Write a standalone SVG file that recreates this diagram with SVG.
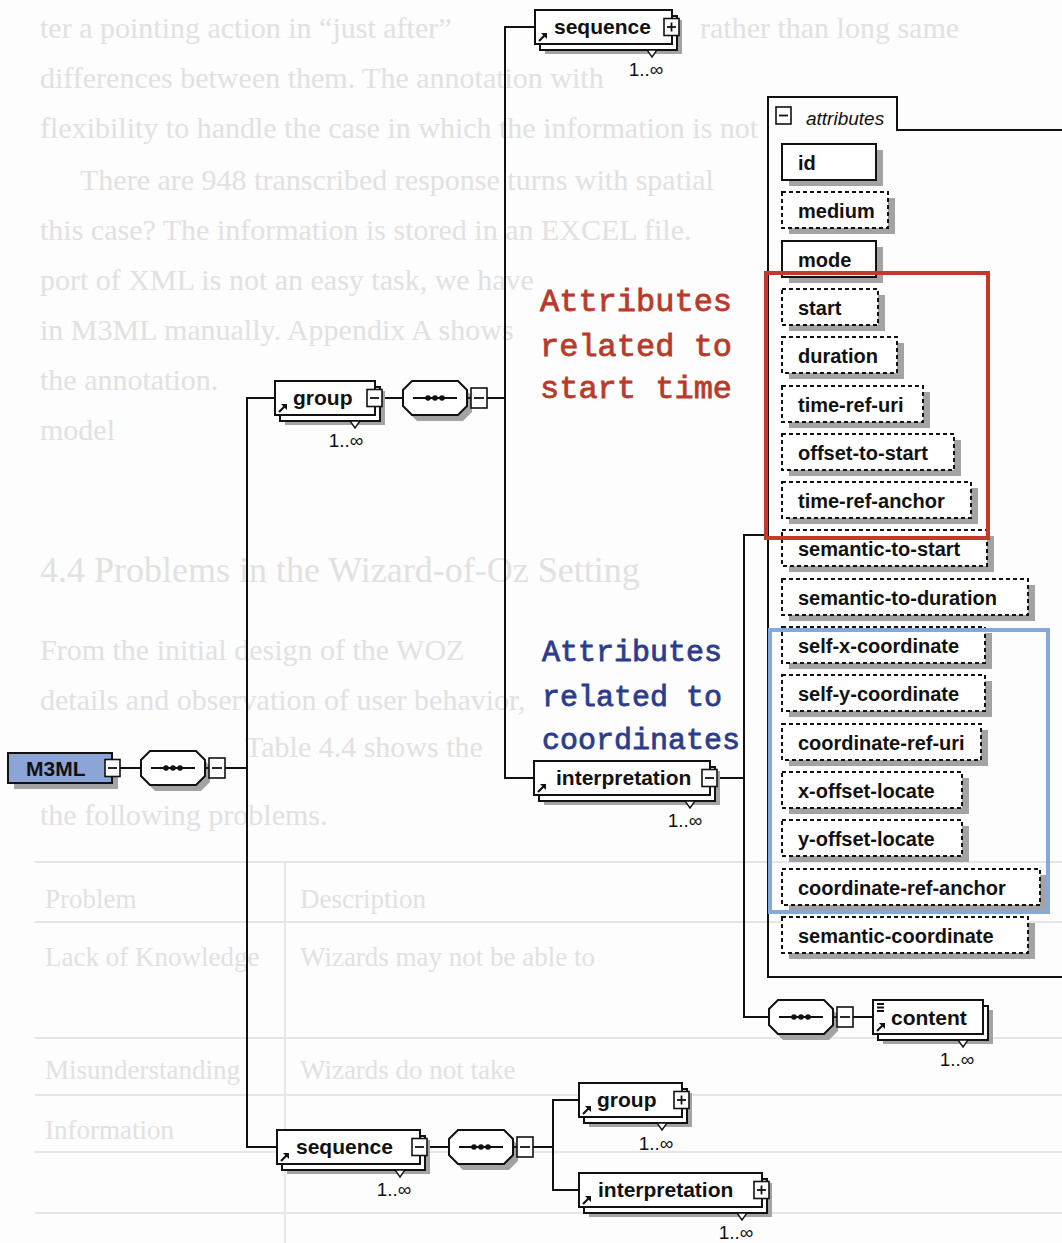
<svg xmlns="http://www.w3.org/2000/svg" xmlns:xlink="http://www.w3.org/1999/xlink" width="1062" height="1243" viewBox="0 0 1062 1243">
<style>
.bgt{font-family:"Liberation Serif","Times New Roman",serif;font-size:30px;fill:#e1e1e1}
.bgh{font-family:"Liberation Serif","Times New Roman",serif;font-size:36px;fill:#e1e1e1}
.bgs{font-family:"Liberation Serif","Times New Roman",serif;font-size:27px;fill:#e1e1e1}
.bgl{stroke:#e6e6e6;stroke-width:2;fill:none}
.conn{stroke:#111;stroke-width:2;fill:none}
.box{fill:#fff;stroke:#111;stroke-width:2}
.shd{fill:#a3a3a3;stroke:none}
.pm{fill:#fff;stroke:#111;stroke-width:1.6}
.pml{stroke:#111;stroke-width:1.8}
.dsh{fill:#fff;stroke:#111;stroke-width:2;stroke-dasharray:4 3}
.el{font-family:"Liberation Sans",Arial,sans-serif;font-weight:bold;font-size:21px;fill:#111}
.at{font-family:"Liberation Sans",Arial,sans-serif;font-weight:bold;font-size:20px;fill:#111}
.card{font-family:"Liberation Sans",Arial,sans-serif;font-size:19px;fill:#111;text-anchor:middle}
.red{font-family:"Liberation Mono","Courier New",monospace;font-size:32px;fill:#b83a2b;stroke:#b83a2b;stroke-width:0.8}
.blue{font-family:"Liberation Mono","Courier New",monospace;font-size:30px;fill:#2c3c8c;stroke:#2c3c8c;stroke-width:0.8}
.tri{fill:#fff;stroke:#111;stroke-width:1.4}
.ref{stroke:#111;stroke-width:2.2;fill:none}
</style>
<defs>
<polygon id="octShape" points="9,0 55,0 64,9 64,25 55,34 9,34 0,25 0,9"/>
<g id="minus"><rect class="pm" x="0" y="0" width="15" height="17"/><line class="pml" x1="3" y1="8.5" x2="12" y2="8.5"/></g>
<g id="plus"><rect class="pm" x="0" y="0" width="15" height="17"/><line class="pml" x1="3" y1="8.5" x2="12" y2="8.5"/><line class="pml" x1="7.5" y1="4" x2="7.5" y2="13"/></g>
<g id="compositor">
<use href="#octShape" x="5" y="6" class="shd"/>
<use href="#octShape" class="box"/>
<line class="pml" x1="10" y1="17" x2="54" y2="17"/>
<circle cx="25" cy="17" r="2.8" fill="#111"/><circle cx="32" cy="17" r="2.8" fill="#111"/><circle cx="39" cy="17" r="2.8" fill="#111"/>
<line class="pml" x1="64" y1="17" x2="68" y2="17"/>
<rect class="pm" x="68" y="7" width="16" height="20"/>
<line class="pml" x1="71" y1="17" x2="81" y2="17"/>
</g>
<g id="refArrow"><path class="ref" d="M0 0 L6 -6"/><path d="M2 -8 H8 V-2 Z" fill="#111"/></g>
</defs>
<rect x="0" y="0" width="1062" height="1243" fill="#fdfdfd"/>

<g id="background-text">
<text class="bgt" x="40" y="38">ter a pointing action in “just after”</text>
<text class="bgt" x="700" y="38">rather than long same</text>
<text class="bgt" x="40" y="88">differences between them. The annotation with</text>
<text class="bgt" x="40" y="138">flexibility to handle the case in which the information is not</text>
<text class="bgt" x="80" y="190">There are 948 transcribed response turns with spatial</text>
<text class="bgt" x="40" y="240">this case? The information is stored in an EXCEL file.</text>
<text class="bgt" x="40" y="290">port of XML is not an easy task, we have</text>
<text class="bgt" x="40" y="340">in M3ML manually. Appendix A shows</text>
<text class="bgt" x="40" y="390">the annotation.</text>
<text class="bgt" x="40" y="440">model</text>
<text class="bgh" x="40" y="582">4.4   Problems in the Wizard-of-Oz Setting</text>
<text class="bgt" x="40" y="660">From the initial design of the WOZ</text>
<text class="bgt" x="40" y="710">details and observation of user behavior,</text>
<text class="bgt" x="245" y="757">Table 4.4 shows the</text>
<text class="bgt" x="40" y="825">the following problems.</text>
<path class="bgl" d="M35 862 H1062 M35 922 H1062 M35 1038 H1062 M35 1095 H1062 M35 1152 H1062 M35 1213 H1062 M285 862 V1243"/>
<text class="bgs" x="45" y="908">Problem</text>
<text class="bgs" x="300" y="908">Description</text>
<text class="bgs" x="45" y="966">Lack of Knowledge</text>
<text class="bgs" x="300" y="966">Wizards may not be able to</text>
<text class="bgs" x="45" y="1079">Misunderstanding</text>
<text class="bgs" x="300" y="1079">Wizards do not take</text>
<text class="bgs" x="45" y="1139">Information</text>
</g>

<g id="connectors">
<path class="conn" d="M120 768 H141"/>
<path class="conn" d="M225 768 H247"/>
<path class="conn" d="M275 398 H247 V1147 H277"/>
<path class="conn" d="M382 398 H403"/>
<path class="conn" d="M487 398 H505"/>
<path class="conn" d="M535 27 H505 V778 H534"/>
<path class="conn" d="M717 778 H744"/>
<path class="conn" d="M768 535 H744 V1017 H769"/>
<path class="conn" d="M853 1017 H873"/>
<path class="conn" d="M427 1147 H449"/>
<path class="conn" d="M533 1147 H553"/>
<path class="conn" d="M579 1100 H553 V1190 H579"/>
</g>

<g id="node-m3ml">
<rect class="shd" x="14" y="759" width="104" height="30"/>
<rect x="8" y="753" width="104" height="30" fill="#8da5d6" stroke="#111" stroke-width="2"/>
<text class="el" x="26" y="776" font-size="22">M3ML</text>
<use href="#minus" x="105" y="759.5"/>
</g>

<g id="node-compositor-1"><use href="#compositor" x="141" y="751"/></g>
<g id="node-compositor-2"><use href="#compositor" x="403" y="381"/></g>
<g id="node-compositor-3"><use href="#compositor" x="769" y="1000"/></g>
<g id="node-compositor-4"><use href="#compositor" x="449" y="1130"/></g>

<g id="node-sequence-top">
<rect class="shd" x="545" y="20" width="137" height="34"/>
<rect class="box" x="540" y="16" width="137" height="34"/>
<rect class="box" x="535" y="10" width="137" height="34"/>
<use href="#refArrow" x="539" y="41"/>
<text class="el" x="554" y="34">sequence</text>
<use href="#plus" x="664" y="18.5"/>
<path class="tri" d="M647 50 H657 L652 57 Z"/>
<text class="card" x="646" y="76">1..∞</text>
</g>

<g id="node-group-top">
<rect class="shd" x="285" y="391" width="100" height="34"/>
<rect class="box" x="280" y="387" width="100" height="34"/>
<rect class="box" x="275" y="381" width="100" height="34"/>
<use href="#refArrow" x="279" y="412"/>
<text class="el" x="293" y="405">group</text>
<use href="#minus" x="367" y="389.5"/>
<path class="tri" d="M350 421 H360 L355 428 Z"/>
<text class="card" x="346" y="447">1..∞</text>
</g>

<g id="node-interpretation-mid">
<rect class="shd" x="544" y="771" width="176" height="34"/>
<rect class="box" x="539" y="767" width="176" height="34"/>
<rect class="box" x="534" y="761" width="176" height="34"/>
<use href="#refArrow" x="538" y="792"/>
<text class="el" x="556" y="785">interpretation</text>
<use href="#minus" x="702" y="769.5"/>
<path class="tri" d="M685 801 H695 L690 808 Z"/>
<text class="card" x="685" y="827">1..∞</text>
</g>

<g id="node-attributes">
<path class="conn" d="M1062 130 H897 V97 H768 V977 H1062"/>
<use href="#minus" x="776" y="107"/>
<text x="806" y="125" font-family="Liberation Sans, Arial, sans-serif" font-style="italic" font-size="19" fill="#111">attributes</text>
</g>

<g id="attr-id"><rect class="shd" x="789" y="150" width="94" height="36"/><rect class="box" x="782" y="144" width="94" height="36"/><text class="at" x="798" y="170">id</text></g>
<g id="attr-medium"><rect class="shd" x="789" y="198" width="106" height="36"/><rect class="dsh" x="782" y="192" width="106" height="36"/><text class="at" x="798" y="218">medium</text></g>
<g id="attr-mode"><rect class="shd" x="789" y="247" width="94" height="36"/><rect class="box" x="782" y="241" width="94" height="36"/><text class="at" x="798" y="267">mode</text></g>
<g id="attr-start"><rect class="shd" x="789" y="295" width="96" height="36"/><rect class="dsh" x="782" y="289" width="96" height="36"/><text class="at" x="798" y="315">start</text></g>
<g id="attr-duration"><rect class="shd" x="789" y="343" width="115" height="36"/><rect class="dsh" x="782" y="337" width="115" height="36"/><text class="at" x="798" y="363">duration</text></g>
<g id="attr-time-ref-uri"><rect class="shd" x="789" y="392" width="141" height="36"/><rect class="dsh" x="782" y="386" width="141" height="36"/><text class="at" x="798" y="412">time-ref-uri</text></g>
<g id="attr-offset-to-start"><rect class="shd" x="789" y="440" width="172" height="36"/><rect class="dsh" x="782" y="434" width="172" height="36"/><text class="at" x="798" y="460">offset-to-start</text></g>
<g id="attr-time-ref-anchor"><rect class="shd" x="789" y="488" width="189" height="36"/><rect class="dsh" x="782" y="482" width="189" height="36"/><text class="at" x="798" y="508">time-ref-anchor</text></g>
<g id="attr-semantic-to-start"><rect class="shd" x="789" y="536" width="205" height="36"/><rect class="dsh" x="782" y="530" width="205" height="36"/><text class="at" x="798" y="556">semantic-to-start</text></g>
<g id="attr-semantic-to-duration"><rect class="shd" x="789" y="585" width="246" height="36"/><rect class="dsh" x="782" y="579" width="246" height="36"/><text class="at" x="798" y="605">semantic-to-duration</text></g>
<g id="attr-self-x-coordinate"><rect class="shd" x="789" y="633" width="203" height="36"/><rect class="dsh" x="782" y="627" width="203" height="36"/><text class="at" x="798" y="653">self-x-coordinate</text></g>
<g id="attr-self-y-coordinate"><rect class="shd" x="789" y="681" width="203" height="36"/><rect class="dsh" x="782" y="675" width="203" height="36"/><text class="at" x="798" y="701">self-y-coordinate</text></g>
<g id="attr-coordinate-ref-uri"><rect class="shd" x="789" y="730" width="199" height="36"/><rect class="dsh" x="782" y="724" width="199" height="36"/><text class="at" x="798" y="750">coordinate-ref-uri</text></g>
<g id="attr-x-offset-locate"><rect class="shd" x="789" y="778" width="180" height="36"/><rect class="dsh" x="782" y="772" width="180" height="36"/><text class="at" x="798" y="798">x-offset-locate</text></g>
<g id="attr-y-offset-locate"><rect class="shd" x="789" y="826" width="180" height="36"/><rect class="dsh" x="782" y="820" width="180" height="36"/><text class="at" x="798" y="846">y-offset-locate</text></g>
<g id="attr-coordinate-ref-anchor"><rect class="shd" x="789" y="875" width="258" height="36"/><rect class="dsh" x="782" y="869" width="258" height="36"/><text class="at" x="798" y="895">coordinate-ref-anchor</text></g>
<g id="attr-semantic-coordinate"><rect class="shd" x="789" y="923" width="246" height="36"/><rect class="dsh" x="782" y="917" width="246" height="36"/><text class="at" x="798" y="943">semantic-coordinate</text></g>

<g id="node-content">
<rect class="shd" x="883" y="1010" width="110" height="34"/>
<rect class="box" x="878" y="1006" width="110" height="34"/>
<rect class="box" x="873" y="1000" width="110" height="34"/>
<path class="pml" d="M877 1004 H884 M877 1007.5 H884 M877 1011 H884" stroke-width="1.3"/>
<use href="#refArrow" x="877" y="1031"/>
<text class="el" x="891" y="1025">content</text>
<path class="tri" d="M958 1040 H968 L963 1047 Z"/>
<text class="card" x="957" y="1066">1..∞</text>
</g>

<g id="node-sequence-bottom">
<rect class="shd" x="287" y="1140" width="143" height="34"/>
<rect class="box" x="282" y="1136" width="143" height="34"/>
<rect class="box" x="277" y="1130" width="143" height="34"/>
<use href="#refArrow" x="281" y="1161"/>
<text class="el" x="296" y="1154">sequence</text>
<use href="#minus" x="412" y="1138.5"/>
<path class="tri" d="M395 1170 H405 L400 1177 Z"/>
<text class="card" x="394" y="1196">1..∞</text>
</g>

<g id="node-group-bottom">
<rect class="shd" x="589" y="1093" width="103" height="34"/>
<rect class="box" x="584" y="1089" width="103" height="34"/>
<rect class="box" x="579" y="1083" width="103" height="34"/>
<use href="#refArrow" x="583" y="1114"/>
<text class="el" x="597" y="1107">group</text>
<use href="#plus" x="674" y="1091.5"/>
<path class="tri" d="M657 1123 H667 L662 1130 Z"/>
<text class="card" x="656" y="1150">1..∞</text>
</g>

<g id="node-interpretation-bottom">
<rect class="shd" x="589" y="1183" width="183" height="34"/>
<rect class="box" x="584" y="1179" width="183" height="34"/>
<rect class="box" x="579" y="1173" width="183" height="34"/>
<use href="#refArrow" x="583" y="1204"/>
<text class="el" x="598" y="1197">interpretation</text>
<use href="#plus" x="754" y="1181.5"/>
<path class="tri" d="M737 1213 H747 L742 1220 Z"/>
<text class="card" x="736" y="1239">1..∞</text>
</g>

<g id="highlight-start-time">
<rect x="766" y="273" width="222" height="265" fill="none" stroke="#c43a28" stroke-width="4"/>
<text class="red" x="540" y="311">Attributes</text>
<text class="red" x="540" y="356">related to</text>
<text class="red" x="540" y="398">start time</text>
</g>

<g id="highlight-coordinates">
<rect x="770" y="630" width="278" height="282" fill="none" stroke="#86a9dc" stroke-width="4"/>
<text class="blue" x="542" y="661">Attributes</text>
<text class="blue" x="542" y="706">related to</text>
<text class="blue" x="542" y="749">coordinates</text>
</g>
</svg>
